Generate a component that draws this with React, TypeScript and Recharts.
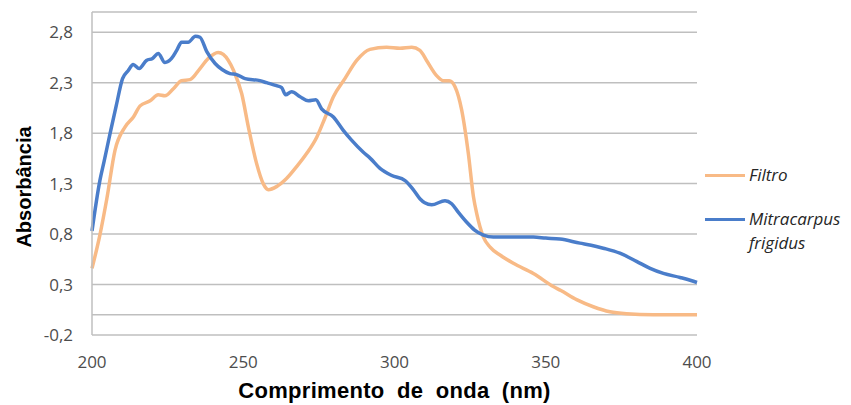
import React from "react";
import {
  LineChart,
  Line,
  XAxis,
  YAxis,
  CartesianGrid,
  Legend,
  ReferenceLine,
  Label,
} from "recharts";

// Wavelength (nm) and absorbance readings for each sample
const filtroNm = [
  200, 202.6, 204.9, 207.6, 210.9, 213.7, 215.9, 219.2, 221.9, 224.1, 226.9,
  229.6, 232.4, 235.7, 238.4, 241.7, 243.4, 246.8, 249.5, 251.7, 254.4, 256.6,
  258.3, 261, 264.3, 267.7, 271, 274.3, 277, 279.8, 283.6, 287.5, 291.9, 297.4,
  301.8, 305.7, 308.4, 310.6, 313.9, 316.1, 318.1, 320, 322.2, 324.4, 326.1,
  327.2, 329.4, 331.6, 335, 339.3, 345.9, 352.5, 355, 360.2, 365.7, 371.2,
  376.7, 385.5, 400,
];
const filtroAbs = [
  0.46, 0.79, 1.15, 1.63, 1.86, 1.96, 2.07, 2.12, 2.18, 2.17, 2.24, 2.32, 2.33,
  2.44, 2.54, 2.6, 2.58, 2.42, 2.19, 1.86, 1.5, 1.3, 1.24, 1.27, 1.35, 1.47, 1.6,
  1.76, 1.95, 2.16, 2.34, 2.52, 2.63, 2.65, 2.64, 2.65, 2.62, 2.52, 2.37, 2.32,
  2.32, 2.26, 2.03, 1.6, 1.17, 1.0, 0.77, 0.67, 0.59, 0.51, 0.41, 0.28, 0.24,
  0.15, 0.08, 0.03, 0.01, 0.0, 0.0,
];

const mitraNm = [
  200, 202.6, 204, 206, 208, 210.1, 212, 213.6, 215.6, 218, 220, 221.9, 224.1,
  226.3, 228, 229.6, 231.8, 234.2, 235.7, 237.9, 240.7, 243, 245.6, 247.8,
  250.6, 255.5, 257.7, 261, 262.7, 264, 266, 268.8, 271.5, 274, 275.9, 279.8,
  283, 285.8, 289.7, 292, 295.2, 299.1, 303.5, 306.2, 308.4, 310, 312.3, 316.7,
  318.9, 321, 323.8, 326.5, 329.4, 332.7, 340, 345.9, 350, 354.7, 361.3, 365,
  369, 374.5, 380, 384.5, 388.9, 394.4, 398, 400,
];
const mitraAbs = [
  0.83, 1.33, 1.52, 1.8, 2.07, 2.34, 2.42, 2.48, 2.44, 2.52, 2.54, 2.59, 2.5,
  2.54, 2.62, 2.7, 2.7, 2.76, 2.75, 2.61, 2.49, 2.43, 2.39, 2.38, 2.34, 2.32,
  2.3, 2.27, 2.25, 2.18, 2.21, 2.16, 2.12, 2.13, 2.04, 1.96, 1.83, 1.73, 1.61,
  1.55, 1.45, 1.38, 1.33, 1.24, 1.15, 1.11, 1.09, 1.13, 1.1, 1.02, 0.92, 0.84,
  0.79, 0.77, 0.77, 0.77, 0.76, 0.75, 0.71, 0.69, 0.66, 0.61, 0.53, 0.46, 0.41,
  0.37, 0.34, 0.32,
];

const xTicks = [200, 250, 300, 350, 400];
const yTicks = [-0.2, 0.3, 0.8, 1.3, 1.8, 2.3, 2.8];

const filtroData = filtroNm.map((nm, i) => ({ nm, abs: filtroAbs[i] }));
const mitraData = mitraNm.map((nm, i) => ({ nm, abs: mitraAbs[i] }));

const GRID = "#BFBFBF";
const TICK = { fill: "#4D4D4D", fontSize: 17, fontFamily: "'Open Sans', sans-serif" };
const TITLE_FONT = "'Liberation Sans', Arial, sans-serif";

const fmt = (v: number) => v.toFixed(1).replace(".", ",");

const LegendBox = (props: any) => {
  const payload = props.payload || [];
  const rows = [
    { top: 17, lines: ["Filtro"] },
    { top: 61, lines: ["Mitracarpus", "frigidus"] },
  ];
  return (
    <div style={{ position: "relative", width: 150, height: 100 }}>
      {payload.map((item: any, i: number) => {
        const row = rows[i];
        if (!row) return null;
        return (
          <React.Fragment key={item.value}>
            <div
              style={{
                position: "absolute",
                left: 4,
                top: row.top - 1.5,
                width: 40,
                height: 3.5,
                background: item.color,
              }}
            />
            {row.lines.map((t, j) => (
              <div
                key={t}
                style={{
                  position: "absolute",
                  left: 48,
                  top: row.top - 12 + j * 24,
                  height: 24,
                  lineHeight: "24px",
                  fontFamily: "'Open Sans', sans-serif",
                  fontStyle: "italic",
                  fontSize: 17,
                  color: "#262626",
                  whiteSpace: "nowrap",
                }}
              >
                {t}
              </div>
            ))}
          </React.Fragment>
        );
      })}
    </div>
  );
};

export default function App() {
  return (
    <LineChart
      width={843}
      height={397}
      margin={{ top: 4, right: 4, bottom: 0, left: 0 }}
    >
      <CartesianGrid
        horizontal
        vertical={false}
        stroke={GRID}
        strokeWidth={1.5}
      />
      <XAxis
        dataKey="nm"
        type="number"
        domain={[200, 400]}
        ticks={xTicks}
        allowDuplicatedCategory={false}
        axisLine={false}
        tickLine={false}
        tickSize={0}
        tickMargin={21}
        height={70}
        tick={TICK}
      >
        <Label
          value="Comprimento de onda (nm)"
          position="insideBottom"
          offset={7}
          style={{
            fontFamily: TITLE_FONT,
            fontWeight: "bold",
            fontSize: 22,
            fill: "#000",
            letterSpacing: 0.3,
            wordSpacing: 6,
          }}
        />
      </XAxis>
      <YAxis
        type="number"
        domain={[-0.2, 3.0]}
        ticks={yTicks}
        allowDataOverflow
        width={84}
        axisLine={{ stroke: GRID, strokeWidth: 1.5 }}
        tickLine={false}
        tickSize={0}
        tickMargin={19}
        tickFormatter={fmt}
        tick={TICK}
      >
        <Label
          content={() => (
            <text
              x={16}
              y={179}
              transform="rotate(-90 16 179)"
              textAnchor="middle"
              dominantBaseline="central"
              style={{
                fontFamily: TITLE_FONT,
                fontWeight: "bold",
                fontSize: 20,
                fill: "#000",
              }}
            >
              Absorbância
            </text>
          )}
        />
      </YAxis>
      <ReferenceLine y={0} stroke={GRID} strokeWidth={1.5} />
      <Legend
        layout="vertical"
        align="right"
        verticalAlign="top"
        width={150}
        content={<LegendBox />}
        wrapperStyle={{ left: 693, top: 150, width: 150 }}
      />
      <Line
        data={filtroData}
        dataKey="abs"
        name="Filtro"
        type="monotone"
        stroke="#F8BA86"
        strokeWidth={3.5}
        dot={false}
        activeDot={false}
        isAnimationActive={false}
      />
      <Line
        data={mitraData}
        dataKey="abs"
        name="Mitracarpus frigidus"
        type="monotone"
        stroke="#4A7DCA"
        strokeWidth={3.5}
        dot={false}
        activeDot={false}
        isAnimationActive={false}
      />
    </LineChart>
  );
}
